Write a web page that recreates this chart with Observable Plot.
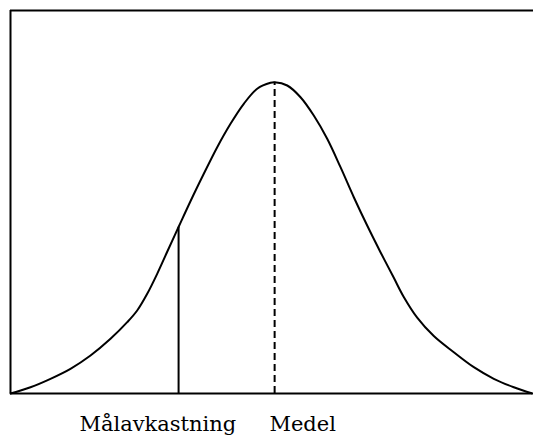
<!DOCTYPE html>
<html>
<head>
<meta charset="utf-8">
<script src="https://cdn.jsdelivr.net/npm/d3@7"></script>
<script src="https://cdn.jsdelivr.net/npm/@observablehq/plot@0.6"></script>
<style>
  html, body { margin: 0; padding: 0; background: #fff; }
  #chart svg { display: block; }
</style>
</head>
<body>
<div id="chart"></div>
<script>
// Curve (x: 0..100 across the plot, y: density 0..100)
const curveX = [0, 3.83, 7.66, 11.49, 15.33, 19.16, 22.36, 24.27, 26.19, 28.10, 30.02, 32.24, 34.48, 37.03, 39.60, 42.15, 44.69, 47.26, 49.81, 50.6, 53.01, 55.56, 58.10, 60.67, 63.22, 65.77, 68.33, 70.88, 73.43, 75.34, 77.91, 81.09, 84.92, 88.76, 92.59, 96.42, 100];
const curveY = [0, 1.64, 3.84, 6.45, 9.92, 14.28, 18.62, 21.67, 26.03, 31.25, 37.0, 43.6, 50.2, 57.36, 64.31, 70.42, 75.64, 79.56, 81.12, 81.25, 80.42, 77.36, 72.58, 66.50, 59.09, 51.25, 43.86, 36.9, 30.2, 25.2, 19.8, 15.0, 10.78, 6.87, 3.84, 1.64, 0];

const targetX = 32.2;   // Målavkastning
const targetY = 43.4;
const meanX = 50.6;     // Medel
const meanY = 81.25;

const labels = ["Målavkastning", "Medel"];
const labelX = [13.2, 49.6];

const curve = curveX.map((x, i) => ({x, y: curveY[i]}));
const labelData = labels.map((t, i) => ({t, x: labelX[i]}));

const chart = Plot.plot({
  width: 533,
  height: 435,
  marginLeft: 10,
  marginRight: 1,
  marginTop: 10,
  marginBottom: 42,
  x: {domain: [0, 100], axis: null},
  y: {domain: [0, 100], axis: null},
  style: {background: "#fff", fontFamily: "DejaVu Serif, serif"},
  marks: [
    Plot.ruleY([100], {x1: 0, x2: 102, stroke: "#000", strokeWidth: 2}),
    Plot.ruleX([0], {y1: 0, y2: 100, stroke: "#000", strokeWidth: 2}),
    Plot.ruleY([0], {x1: 0, x2: 100, stroke: "#000", strokeWidth: 2}),
    Plot.line(curve, {x: "x", y: "y", curve: "catmull-rom", stroke: "#000", strokeWidth: 2}),
    Plot.ruleX([targetX], {y1: 0, y2: targetY, stroke: "#000", strokeWidth: 2}),
    Plot.ruleX([meanX], {y1: 0, y2: meanY, stroke: "#000", strokeWidth: 2, strokeDasharray: "7,4"}),
    Plot.text(labelData, {x: "x", y: 0, text: "t", textAnchor: "start", lineAnchor: "bottom", dy: 37,
      fontSize: 21, fill: "#000", clip: false})
  ]
});
d3.select(chart).selectAll("text").style("font-family", "'DejaVu Serif', serif");
document.getElementById("chart").appendChild(chart);
</script>
</body>
</html>
